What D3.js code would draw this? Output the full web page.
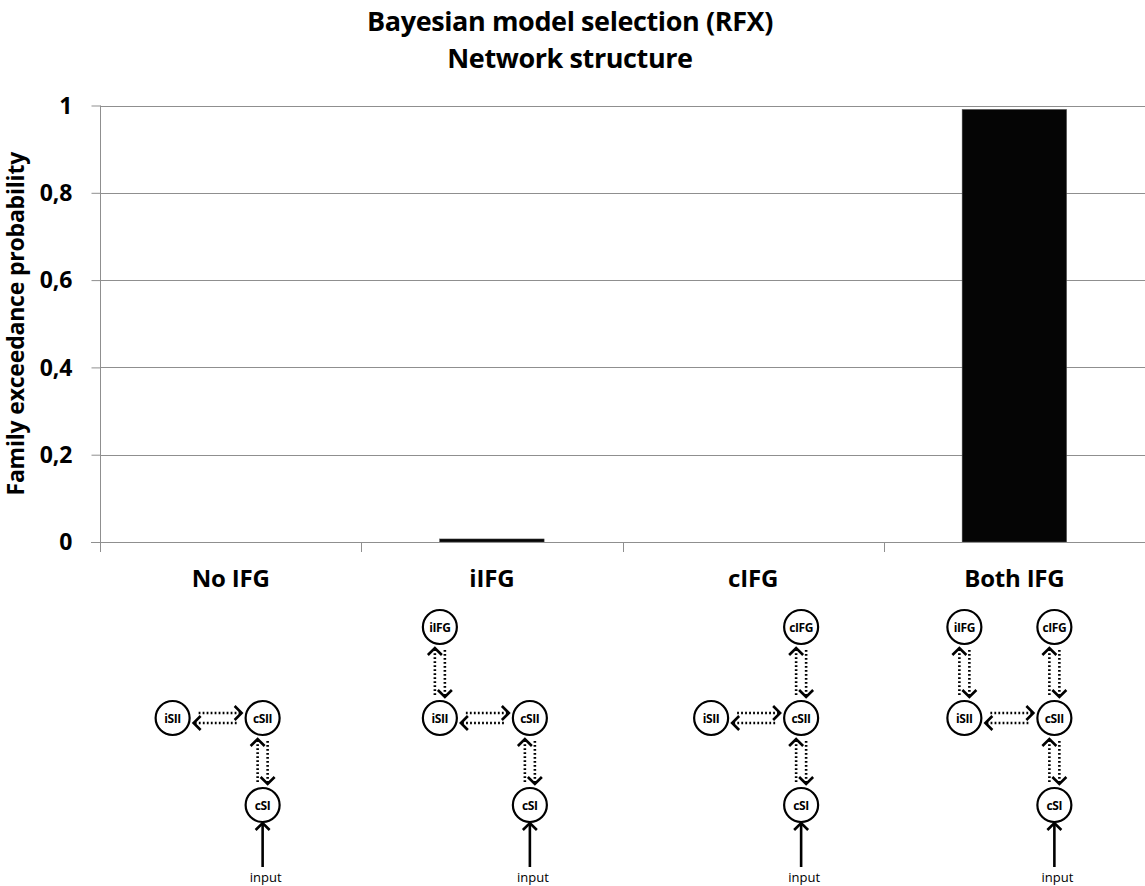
<!DOCTYPE html>
<html><head><meta charset="utf-8">
<script src="https://cdn.jsdelivr.net/npm/d3@7"></script>
<style>
body{margin:0;background:#fff}
text{font-family:"Open Sans",Lato,sans-serif;font-weight:bold;fill:#000}
</style>
</head><body>
<svg id="chart" width="1145" height="886"></svg>
<script>
// ---- data ----
const categories = ["No IFG", "iIFG", "cIFG", "Both IFG"];
const values = [0, 0.007, 0, 0.991];
const yTicks = [0, 0.2, 0.4, 0.6, 0.8, 1];
const yTickLabels = ["0", "0,2", "0,4", "0,6", "0,8", "1"];
const titleLines = ["Bayesian model selection (RFX)", "Network structure"];
const yTitle = "Family exceedance probability";
// network structure per family: col 0 = ipsilateral, col 1 = contralateral; row 0 = IFG, 1 = SII, 2 = SI
const networkNodes = [
  [["iSII",0,1],["cSII",1,1],["cSI",1,2]],
  [["iIFG",0,0],["iSII",0,1],["cSII",1,1],["cSI",1,2]],
  [["cIFG",1,0],["iSII",0,1],["cSII",1,1],["cSI",1,2]],
  [["iIFG",0,0],["cIFG",1,0],["iSII",0,1],["cSII",1,1],["cSI",1,2]]
];
const networkLinks = [
  [["iSII","cSII"],["cSII","cSI"]],
  [["iIFG","iSII"],["iSII","cSII"],["cSII","cSI"]],
  [["cIFG","cSII"],["iSII","cSII"],["cSII","cSI"]],
  [["iIFG","iSII"],["cIFG","cSII"],["iSII","cSII"],["cSII","cSI"]]
];
const inputNode = "cSI";
const inputLabel = "input";

// ---- layout ----
const plot = {left: 100, right: 1145, top: 105.5, bottom: 542};
const svg = d3.select("#chart");

const x = d3.scaleBand().domain(categories).range([plot.left, plot.right]).paddingInner(0.6).paddingOuter(0.3);
const xb = d3.scaleBand().domain(categories).range([plot.left, plot.right]);
const y = d3.scaleLinear().domain([0, 1]).range([plot.bottom, plot.top]);

// titles
svg.selectAll("text.title").data(titleLines).join("text")
  .attr("class","title").attr("x", 570).attr("y", (d,i) => 31 + i*37)
  .attr("text-anchor","middle").style("font-size","27px").style("letter-spacing","-0.4px").text(d => d);

// gridlines
svg.append("g").selectAll("line").data(yTicks.filter(v => v > 0)).join("line")
  .attr("x1", plot.left).attr("x2", plot.right)
  .attr("y1", d => Math.round(y(d)) + 0.5).attr("y2", d => Math.round(y(d)) + 0.5)
  .attr("stroke", "#8f8f8f").attr("stroke-width", 1);

// y axis
const yAxis = d3.axisLeft(y).tickValues(yTicks).tickSize(9).tickPadding(19)
  .tickFormat((d,i) => yTickLabels[i]);
const gy = svg.append("g").attr("transform", `translate(${plot.left + 0.5},0)`).call(yAxis);
gy.select(".domain").attr("stroke", "#8f8f8f").attr("d", `M0,${plot.top}V${plot.bottom}`);
gy.selectAll(".tick line").attr("stroke", "#8f8f8f");
gy.selectAll(".tick text").style("font-size","23px").style("font-family","'Open Sans',sans-serif")
  .style("font-weight","bold").attr("fill","#000").attr("dy","0.34em");

// y title
svg.append("text").attr("transform", `translate(24,${(plot.top+plot.bottom)/2}) rotate(-90)`)
  .attr("text-anchor","middle").style("font-size","23px").style("letter-spacing","-0.2px").text(yTitle);

// bars
svg.append("g").selectAll("rect").data(values).join("rect")
  .attr("x", (d,i) => x(categories[i])).attr("width", x.bandwidth())
  .attr("y", d => y(d)).attr("height", d => plot.bottom - y(d))
  .attr("fill", "#050505").attr("stroke", "#555").attr("stroke-width", 0.5);

// x axis (boundary ticks)
const gx = svg.append("g");
gx.append("line").attr("x1", plot.left - 9).attr("x2", plot.right)
  .attr("y1", plot.bottom + 0.5).attr("y2", plot.bottom + 0.5).attr("stroke", "#8f8f8f");
const bounds = categories.map(c => xb(c)).concat([plot.right - 0.5]);
gx.selectAll("line.tk").data(bounds).join("line").attr("class","tk")
  .attr("x1", d => Math.round(d)+0.5).attr("x2", d => Math.round(d)+0.5)
  .attr("y1", plot.bottom).attr("y2", plot.bottom + 10).attr("stroke", "#8f8f8f");
gx.selectAll("text").data(categories).join("text")
  .attr("x", d => xb(d) + xb.bandwidth()/2).attr("y", 587)
  .attr("text-anchor","middle").style("font-size","24px").style("letter-spacing","-0.2px").text(d => d);

// network diagrams
const rowY = [627, 718, 805];
const colGap = 90;
const cOffset = [32, 38, 48, 40];
const R = 17;
function chevron(g, tx, ty, angle) {
  const s = 7;
  g.append("path").attr("d", `M${-s},${-s}L0,0L${-s},${s}`)
    .attr("transform", `translate(${tx},${ty}) rotate(${angle})`)
    .attr("fill","none").attr("stroke","#000").attr("stroke-width",2.6)
    .attr("stroke-linejoin","miter");
}
function dotted(g, x1, y1, x2, y2) {
  g.append("line").attr("x1",x1).attr("y1",y1).attr("x2",x2).attr("y2",y2)
    .attr("stroke","#000").attr("stroke-width",2.6).attr("stroke-dasharray","1.8,2.2");
  const a = Math.atan2(y2-y1, x2-x1) * 180 / Math.PI;
  chevron(g, x2, y2, a);
}
categories.forEach((cat, gi) => {
  const g = svg.append("g");
  const cx = xb(cat) + xb.bandwidth()/2 + cOffset[gi];
  const pos = {};
  networkNodes[gi].forEach(([id, c, r]) => { pos[id] = [cx - (1-c)*colGap, rowY[r]]; });
  networkLinks[gi].forEach(([a, b]) => {
    const [ax, ay] = pos[a], [bx, by] = pos[b];
    const o = 5, gap = R + 4;
    if (ay === by) { // horizontal: a left, b right
      dotted(g, ax + gap + 5, ay - o, bx - gap, by - o);
      dotted(g, bx - gap - 5, by + o, ax + gap, ay + o);
    } else { // vertical: a top, b bottom
      dotted(g, bx - o, by - gap - 2, ax - o, ay + gap);
      dotted(g, ax + o, ay + gap + 2, bx + o, by - gap);
    }
  });
  networkNodes[gi].forEach(([id]) => {
    const [px, py] = pos[id];
    g.append("circle").attr("cx",px).attr("cy",py).attr("r",R)
      .attr("fill","#fff").attr("stroke","#000").attr("stroke-width",2.2);
    g.append("text").attr("x",px).attr("y",py+4.5).attr("text-anchor","middle")
      .style("font-size","12px").style("letter-spacing","-0.4px").text(id);
  });
  const [ix, iy] = pos[inputNode];
  g.append("line").attr("x1",ix).attr("x2",ix).attr("y1",867).attr("y2",iy+R+1)
    .attr("stroke","#000").attr("stroke-width",2.6);
  chevron(g, ix, iy+R+1, -90);
  g.append("text").attr("x",ix+3).attr("y",882).attr("text-anchor","middle")
    .style("font-size","13px").style("font-weight","normal").text(inputLabel);
});
</script>
</body></html>
